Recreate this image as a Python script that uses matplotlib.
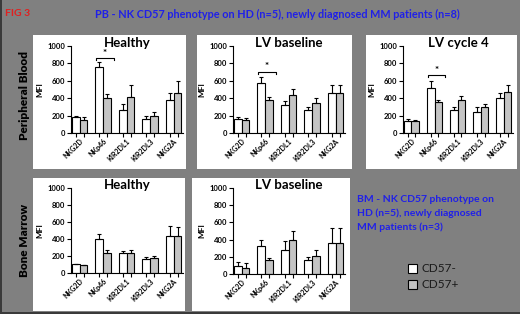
import matplotlib
matplotlib.use("Agg")
import matplotlib.pyplot as plt
from matplotlib.patches import Rectangle
import numpy as np

plt.rcParams['font.family'] = ['Lato', 'DejaVu Sans']

markers = ["NKG2D", "NKp46", "KIR2DL1", "KIR2DL3", "NKG2A"]

pb_healthy_neg = [180, 760, 270, 160, 380]
pb_healthy_neg_err = [10, 60, 60, 40, 80]
pb_healthy_pos = [150, 400, 410, 200, 460]
pb_healthy_pos_err = [30, 50, 140, 40, 140]

pb_lvbase_neg = [160, 580, 320, 260, 460]
pb_lvbase_neg_err = [25, 60, 45, 40, 90]
pb_lvbase_pos = [150, 375, 440, 345, 460]
pb_lvbase_pos_err = [20, 40, 70, 60, 90]

pb_lvc4_neg = [140, 520, 270, 245, 400]
pb_lvc4_neg_err = [25, 80, 30, 50, 60]
pb_lvc4_pos = [140, 355, 375, 295, 475]
pb_lvc4_pos_err = [15, 30, 50, 35, 80]

bm_healthy_neg = [105, 400, 230, 165, 440]
bm_healthy_neg_err = [5, 60, 30, 25, 110]
bm_healthy_pos = [95, 235, 235, 175, 440]
bm_healthy_pos_err = [5, 40, 30, 25, 100]

bm_lvbase_neg = [90, 330, 280, 165, 365]
bm_lvbase_neg_err = [50, 70, 100, 35, 175]
bm_lvbase_pos = [75, 165, 390, 215, 365]
bm_lvbase_pos_err = [50, 20, 110, 60, 165]

W, H = 520, 314
fig = plt.figure(figsize=(W / 100, H / 100), dpi=100)
fig.patch.set_facecolor('#808080')

def px_rect(x0, y0, x1, y1, color, z=-5):
    fig.patches.append(Rectangle((x0 / W, 1 - y1 / H), (x1 - x0) / W, (y1 - y0) / H,
                                 transform=fig.transFigure, facecolor=color,
                                 edgecolor='none', zorder=z))

# white panels
px_rect(33, 35, 186, 169, 'white')
px_rect(197, 35, 352, 169, 'white')
px_rect(366, 35, 517, 169, 'white')
px_rect(33, 178, 185, 311, 'white')
px_rect(192, 178, 350, 311, 'white')
# dark frame edges
px_rect(0, 0, 2, 314, '#3a3a3a')
px_rect(0, 312, 520, 314, '#3a3a3a')

def make_ax(x0, y0, x1, y1):
    ax = fig.add_axes([x0 / W, 1 - y1 / H, (x1 - x0) / W, (y1 - y0) / H])
    ax.set_zorder(1)
    return ax

def draw_panel(ax, title, neg, neg_err, pos, pos_err, sig=None):
    ax.set_facecolor('none')
    g = np.arange(len(markers)) * 3
    xn = g + 0.5
    xp = g + 1.5
    ax.bar(xn, neg, width=1, color='white', edgecolor='black', linewidth=0.8, zorder=2)
    ax.bar(xp, pos, width=1, color='#c4c4c4', edgecolor='black', linewidth=0.8, zorder=2)
    ax.errorbar(xn, neg, yerr=[np.zeros(len(neg)), neg_err], fmt='none', ecolor='black',
                elinewidth=0.8, capsize=1.5, capthick=0.8, zorder=3)
    ax.errorbar(xp, pos, yerr=[np.zeros(len(pos)), pos_err], fmt='none', ecolor='black',
                elinewidth=0.8, capsize=1.5, capthick=0.8, zorder=3)
    ax.set_xlim(-0.1, 14.2)
    ax.set_ylim(0, 1000)
    ax.set_yticks([0, 200, 400, 600, 800, 1000])
    ax.set_yticklabels(['0', '200', '400', '600', '800', '1000'], fontsize=5.5,
                       fontweight='bold')
    ax.set_xticks(g + 1)
    ax.set_xticklabels(markers, rotation=45, ha='right', rotation_mode='anchor',
                       fontsize=5, fontweight='bold')
    ax.set_xticks(np.concatenate([xn, xp]), minor=True)
    ax.tick_params(axis='x', which='major', length=0, pad=3)
    ax.tick_params(axis='x', which='minor', length=3, width=0.8)
    ax.tick_params(axis='y', length=3, width=0.8, pad=1)
    for s in ['top', 'right']:
        ax.spines[s].set_visible(False)
    for s in ['left', 'bottom']:
        ax.spines[s].set_linewidth(0.8)
    ax.set_ylabel('MFI', fontsize=6, fontweight='bold', labelpad=3)
    ax.set_title(title, fontsize=9.5, fontweight='bold', pad=0, y=0.99)
    if sig is not None:
        x0, x1 = g[1] + 0.1, g[1] + 2.4
        ax.plot([x0, x0, x1, x1], [sig - 25, sig, sig, sig - 25], color='black', lw=0.8,
                clip_on=False)
        ax.text((x0 + x1) / 2, sig + 5, '*', ha='center', va='bottom', fontsize=7,
                fontweight='bold')

ax1 = make_ax(71, 46, 183, 133)
draw_panel(ax1, 'Healthy', pb_healthy_neg, pb_healthy_neg_err, pb_healthy_pos,
           pb_healthy_pos_err, sig=860)
ax2 = make_ax(233, 46, 345, 133)
draw_panel(ax2, 'LV baseline', pb_lvbase_neg, pb_lvbase_neg_err, pb_lvbase_pos,
           pb_lvbase_pos_err, sig=705)
ax3 = make_ax(403, 46, 513, 133)
draw_panel(ax3, 'LV cycle 4', pb_lvc4_neg, pb_lvc4_neg_err, pb_lvc4_pos,
           pb_lvc4_pos_err, sig=665)
ax4 = make_ax(71, 188, 183, 273)
draw_panel(ax4, 'Healthy', bm_healthy_neg, bm_healthy_neg_err, bm_healthy_pos,
           bm_healthy_pos_err)
ax5 = make_ax(233, 188, 345, 274)
draw_panel(ax5, 'LV baseline', bm_lvbase_neg, bm_lvbase_neg_err, bm_lvbase_pos,
           bm_lvbase_pos_err)

# header texts
fig.text(5 / W, 1 - 14 / H, 'FIG 3', color='#e02020', fontsize=7.5, fontweight='bold',
         va='center', ha='left')
fig.text(95 / W, 1 - 14 / H,
         'PB - NK CD57 phenotype on HD (n=5), newly diagnosed MM patients (n=8)',
         color='#2020e8', fontsize=7.8, fontweight='bold', va='center', ha='left')

# row labels
fig.text(25 / W, 1 - 96 / H, 'Peripheral Blood', rotation=90, fontsize=8.5,
         fontweight='heavy', va='center', ha='center', color='black')
fig.text(25 / W, 1 - 240 / H, 'Bone Marrow', rotation=90, fontsize=8.5,
         fontweight='heavy', va='center', ha='center', color='black')

# BM description
for i, line in enumerate(['BM - NK CD57 phenotype on', 'HD (n=5), newly diagnosed',
                          'MM patients (n=3)']):
    fig.text(357 / W, 1 - (200 + 13.5 * i) / H, line, color='#2020e8', fontsize=7.5,
             fontweight='bold', va='center', ha='left')

# legend
legend_labels = ['CD57-', 'CD57+']
legend_colors = ['white', '#c4c4c4']
for i, (lab, col) in enumerate(zip(legend_labels, legend_colors)):
    yc = 268 + 16 * i
    fig.patches.append(Rectangle((408 / W, 1 - (yc + 4.5) / H), 9 / W, 9 / H,
                                 transform=fig.transFigure, facecolor=col,
                                 edgecolor='black', linewidth=0.8, zorder=3))
    fig.text(421 / W, 1 - yc / H, lab, fontsize=8.5, color='#1a1a1a', va='center',
             ha='left')

fig.savefig('out.png', dpi=100, facecolor=fig.get_facecolor())
